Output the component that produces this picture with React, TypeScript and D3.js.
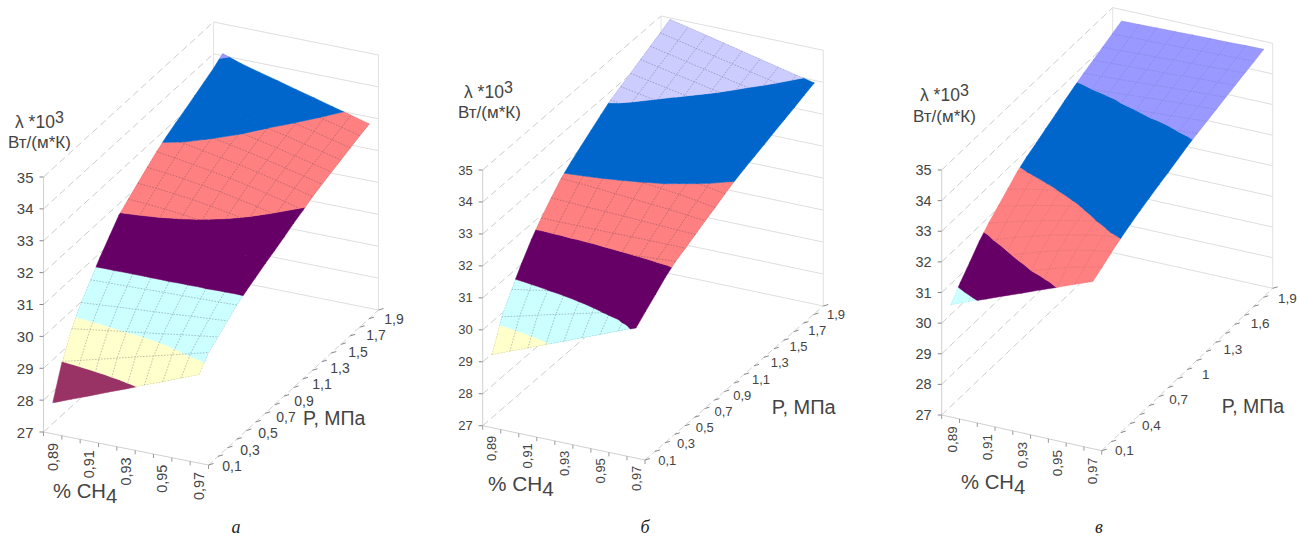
import React from "react";
import * as d3 from "d3";

const ch4Cats = ["0,89", "0,90", "0,91", "0,92", "0,93", "0,94", "0,95", "0,96", "0,97"];
const ch4Labels = ["0,89", "0,91", "0,93", "0,95", "0,97"];
const pCats = ["0,1", "0,2", "0,3", "0,4", "0,5", "0,6", "0,7", "0,8", "0,9", "1", "1,1", "1,2", "1,3", "1,4", "1,5", "1,6", "1,7", "1,8", "1,9"];
const pLabelsAB = ["0,1", "0,3", "0,5", "0,7", "0,9", "1,1", "1,3", "1,5", "1,7", "1,9"];
const pLabelsC = ["0,1", "0,4", "0,7", "1", "1,3", "1,6", "1,9"];
const zTicks = [27, 28, 29, 30, 31, 32, 33, 34, 35];
// one band per unit of lambda, 27-28 first
const bandColors = ["#9999FF", "#993366", "#FFFFCC", "#CCFFFF", "#660066", "#FF8080", "#0066CC"];
const darkColors = ["#993366", "#660066", "#0066CC"];

// rows: P from 0,1 to 1,9; columns: CH4 from 0,89 to 0,97
const surfaceA = [
  [27.97, 28.20, 28.42, 28.65, 28.87, 29.10, 29.32, 29.55, 29.77],
  [29.00, 29.15, 29.30, 29.45, 29.60, 29.75, 29.90, 30.05, 30.20],
  [29.76, 29.84, 29.93, 30.01, 30.09, 30.17, 30.26, 30.34, 30.42],
  [30.31, 30.35, 30.40, 30.44, 30.48, 30.52, 30.57, 30.61, 30.65],
  [30.75, 30.77, 30.78, 30.80, 30.82, 30.83, 30.85, 30.86, 30.88],
  [31.18, 31.17, 31.15, 31.14, 31.13, 31.11, 31.10, 31.08, 31.07],
  [31.57, 31.53, 31.48, 31.44, 31.40, 31.35, 31.31, 31.26, 31.22],
  [31.96, 31.93, 31.89, 31.83, 31.77, 31.69, 31.60, 31.49, 31.38],
  [32.20, 32.17, 32.12, 32.06, 31.98, 31.89, 31.78, 31.66, 31.52],
  [32.43, 32.39, 32.33, 32.26, 32.17, 32.07, 31.95, 31.82, 31.67],
  [32.66, 32.60, 32.53, 32.44, 32.35, 32.23, 32.12, 31.97, 31.83],
  [32.88, 32.80, 32.71, 32.61, 32.51, 32.39, 32.26, 32.12, 31.97],
  [33.07, 32.98, 32.87, 32.77, 32.66, 32.54, 32.40, 32.27, 32.12],
  [33.23, 33.13, 33.01, 32.90, 32.78, 32.65, 32.52, 32.38, 32.24],
  [33.38, 33.26, 33.14, 33.02, 32.90, 32.77, 32.63, 32.49, 32.35],
  [33.54, 33.41, 33.27, 33.14, 33.00, 32.87, 32.73, 32.60, 32.46],
  [33.70, 33.56, 33.42, 33.28, 33.14, 32.99, 32.85, 32.71, 32.57],
  [33.86, 33.71, 33.57, 33.42, 33.27, 33.12, 32.97, 32.83, 32.68],
  [34.07, 33.87, 33.71, 33.56, 33.40, 33.25, 33.09, 32.94, 32.78],
];

const surfaceB = [
  [29.27, 29.50, 29.72, 29.95, 30.17, 30.40, 30.62, 30.85, 31.07],
  [30.20, 30.34, 30.49, 30.63, 30.77, 30.91, 31.06, 31.20, 31.34],
  [30.79, 30.89, 30.99, 31.09, 31.20, 31.30, 31.40, 31.50, 31.60],
  [31.32, 31.39, 31.46, 31.53, 31.60, 31.66, 31.73, 31.80, 31.87],
  [31.81, 31.84, 31.88, 31.91, 31.95, 31.98, 32.01, 32.05, 32.08],
  [32.22, 32.22, 32.22, 32.22, 32.22, 32.23, 32.23, 32.23, 32.23],
  [32.58, 32.56, 32.53, 32.51, 32.49, 32.46, 32.44, 32.41, 32.39],
  [32.92, 32.89, 32.85, 32.80, 32.76, 32.71, 32.67, 32.61, 32.55],
  [33.17, 33.14, 33.10, 33.05, 32.99, 32.94, 32.87, 32.79, 32.70],
  [33.39, 33.35, 33.31, 33.26, 33.20, 33.13, 33.04, 32.96, 32.86],
  [33.61, 33.57, 33.51, 33.46, 33.38, 33.31, 33.21, 33.12, 33.01],
  [33.83, 33.76, 33.70, 33.62, 33.53, 33.44, 33.35, 33.24, 33.13],
  [34.04, 33.95, 33.86, 33.77, 33.67, 33.57, 33.46, 33.35, 33.24],
  [34.19, 34.09, 33.98, 33.88, 33.77, 33.67, 33.56, 33.46, 33.35],
  [34.34, 34.23, 34.12, 34.01, 33.91, 33.80, 33.69, 33.58, 33.47],
  [34.50, 34.39, 34.27, 34.16, 34.04, 33.93, 33.81, 33.70, 33.58],
  [34.65, 34.53, 34.41, 34.29, 34.17, 34.05, 33.93, 33.81, 33.69],
  [34.80, 34.68, 34.55, 34.43, 34.31, 34.18, 34.06, 33.93, 33.81],
  [34.96, 34.83, 34.70, 34.57, 34.44, 34.31, 34.18, 34.05, 33.92],
];

const surfaceC = [
  [30.66, 30.89, 31.11, 31.34, 31.56, 31.79, 32.01, 32.24, 32.46],
  [31.08, 31.33, 31.57, 31.79, 32.00, 32.19, 32.37, 32.51, 32.64],
  [31.45, 31.70, 31.92, 32.13, 32.32, 32.49, 32.64, 32.76, 32.84],
  [31.84, 32.04, 32.24, 32.41, 32.57, 32.71, 32.84, 32.94, 33.01],
  [32.15, 32.32, 32.47, 32.62, 32.75, 32.88, 32.99, 33.08, 33.17],
  [32.41, 32.55, 32.69, 32.82, 32.93, 33.04, 33.14, 33.23, 33.31],
  [32.67, 32.80, 32.91, 33.02, 33.12, 33.21, 33.30, 33.37, 33.44],
  [32.94, 33.04, 33.14, 33.23, 33.31, 33.38, 33.45, 33.51, 33.57],
  [33.13, 33.22, 33.30, 33.38, 33.45, 33.52, 33.58, 33.64, 33.69],
  [33.29, 33.38, 33.45, 33.53, 33.60, 33.66, 33.72, 33.77, 33.82],
  [33.46, 33.53, 33.60, 33.67, 33.74, 33.80, 33.85, 33.90, 33.95],
  [33.62, 33.68, 33.75, 33.81, 33.87, 33.92, 33.96, 34.01, 34.05],
  [33.79, 33.85, 33.90, 33.96, 34.00, 34.05, 34.08, 34.12, 34.15],
  [33.95, 34.00, 34.04, 34.08, 34.12, 34.16, 34.19, 34.22, 34.25],
  [34.10, 34.13, 34.16, 34.19, 34.23, 34.26, 34.29, 34.32, 34.35],
  [34.23, 34.26, 34.29, 34.31, 34.34, 34.37, 34.40, 34.42, 34.45],
  [34.36, 34.38, 34.41, 34.43, 34.46, 34.48, 34.50, 34.53, 34.55],
  [34.50, 34.52, 34.54, 34.55, 34.57, 34.59, 34.61, 34.62, 34.64],
  [34.63, 34.64, 34.66, 34.67, 34.69, 34.70, 34.71, 34.73, 34.74],
];

const textColor = "#444";
const sans = "'Liberation Sans', Arial, sans-serif";

// categories sit in the middle of their tick interval on the CH4 axis (Excel style)
const ch4Scale = d3.scalePoint<string>().domain(ch4Cats).range([0, 1]).padding(0.5);
const pScale = d3.scalePoint<string>().domain(pCats).range([0, 1]);
const line = d3.line();

type Pt3 = [number, number, number];

// keep the part of a polygon on one side of a z level
function clipZ(poly: Pt3[], level: number, keepAbove: boolean): Pt3[] {
  const out: Pt3[] = [];
  poly.forEach((a, i) => {
    const b = poly[(i + 1) % poly.length];
    const aIn = keepAbove ? a[2] >= level : a[2] <= level;
    const bIn = keepAbove ? b[2] >= level : b[2] <= level;
    if (aIn) out.push(a);
    if (aIn !== bIn) {
      const t = (level - a[2]) / (b[2] - a[2]);
      out.push([a[0] + (b[0] - a[0]) * t, a[1] + (b[1] - a[1]) * t, level]);
    }
  });
  return out;
}

const Panel = ({ cfg }: { cfg: any }) => {
  const zPx = d3.scaleLinear().domain([27, 35]).range([0, cfg.zHeight]);
  const colors = [...bandColors, cfg.topColor];

  const project = (u: number, v: number, z: number): [number, number] => [
    cfg.ox + cfg.ux * u + cfg.vx * v,
    cfg.oy + cfg.uy * u + cfg.vy * v - zPx(z),
  ];

  // band outlines, built from the triangles of every grid cell
  const bandPaths = colors.map(() => "");
  cfg.surface.slice(1).forEach((row: number[], r: number) => {
    row.slice(1).forEach((_z: number, c: number) => {
      const u0 = ch4Scale(ch4Cats[c])!;
      const u1 = ch4Scale(ch4Cats[c + 1])!;
      const v0 = pScale(pCats[r])!;
      const v1 = pScale(pCats[r + 1])!;
      const a: Pt3 = [u0, v0, cfg.surface[r][c]];
      const b: Pt3 = [u1, v0, cfg.surface[r][c + 1]];
      const d: Pt3 = [u1, v1, cfg.surface[r + 1][c + 1]];
      const e: Pt3 = [u0, v1, cfg.surface[r + 1][c]];
      [[a, b, d], [a, d, e]].forEach((tri) => {
        colors.forEach((_col, i) => {
          let poly = clipZ(tri as Pt3[], 27 + i, true);
          if (poly.length) poly = clipZ(poly, 28 + i, false);
          if (poly.length > 2) {
            bandPaths[i] += line(poly.map((p) => project(p[0], p[1], p[2]))) + "Z";
          }
        });
      });
    });
  });

  const bands = colors.map((color: string, i: number) => ({ color, d: bandPaths[i] }));
  const clipId = `mesh-${cfg.id}`;

  const pRows = pCats.map((_p, r) =>
    line(ch4Cats.map((c, j) => project(ch4Scale(c)!, pScale(pCats[r])!, cfg.surface[r][j])))
  );
  const ch4Cols = ch4Cats.map((c, j) =>
    line(pCats.map((p, r) => project(ch4Scale(c)!, pScale(p)!, cfg.surface[r][j])))
  );

  const seg = (a: [number, number], b: [number, number]) => ({ x1: a[0], y1: a[1], x2: b[0], y2: b[1] });

  const lerp = (a: number, b: number, t: number) => a + (b - a) * t;

  return (
    <g>
      {/* walls */}
      {zTicks.map((z) => (
        <g key={z}>
          <line {...seg(project(0, 0, z), project(0, 1, z))} stroke="#c6c6c6" strokeWidth={0.9} strokeDasharray="7 4" />
          <line {...seg(project(0, 1, z), project(1, 1, z))} stroke="#dadada" strokeWidth={0.9} />
        </g>
      ))}
      <line {...seg(project(0, 0, 27), project(0, 0, 35))} stroke="#d0d0d0" />
      <line {...seg(project(0, 1, 27), project(0, 1, 35))} stroke="#e2e2e2" />
      <line {...seg(project(1, 1, 27), project(1, 1, 35))} stroke="#e2e2e2" />
      <line {...seg(project(0, 0, 27), project(1, 0, 27))} stroke="#d0d0d0" />
      <line {...seg(project(1, 0, 27), project(1, 1, 27))} stroke="#d0d0d0" strokeDasharray="6 3" />

      {/* axis ticks */}
      {zTicks.map((z) => {
        const [x, y] = project(0, 0, z);
        return (
          <g key={z}>
            <line x1={x - 4} x2={x} y1={y} y2={y} stroke="#888" />
            <text x={x - 10} y={y} fontSize={cfg.zFont} textAnchor="end" dominantBaseline="central" fill={textColor}>{z}</text>
          </g>
        );
      })}
      {d3.range(10).map((i) => {
        const [x, y] = project(i / 9, 0, 27);
        return <line key={i} x1={x} x2={x} y1={y} y2={y + 4} stroke="#999" />;
      })}
      {pCats.map((p) => {
        const [x, y] = project(1, pScale(p)!, 27);
        return <line key={p} x1={x} x2={x + 5} y1={y} y2={y - 1.5} stroke="#888" />;
      })}

      {/* surface */}
      {bands.map((b) => (
        <path key={b.color} d={b.d} fill={b.color} stroke={b.color} strokeWidth={0.5} />
      ))}
      <clipPath id={clipId}>
        {bands.filter((b) => !darkColors.includes(b.color)).map((b) => (
          <path key={b.color} d={b.d} />
        ))}
      </clipPath>
      <g clipPath={`url(#${clipId})`} fill="none" stroke="#3c3c50" strokeWidth={0.7} strokeDasharray="1.6 1.4" opacity={cfg.meshOpacity}>
        {pRows.map((d, i) => <path key={i} d={d!} />)}
        {ch4Cols.map((d, i) => <path key={i} d={d!} />)}
      </g>

      {/* tick labels */}
      {cfg.pLabels.map((p: string) => {
        const t = pScale(p)!;
        return (
          <text key={p} x={lerp(cfg.pLabelFrom[0], cfg.pLabelTo[0], t)} y={lerp(cfg.pLabelFrom[1], cfg.pLabelTo[1], t)}
            fontSize={cfg.pFont} textAnchor="middle" dominantBaseline="central" fill={textColor}>{p}</text>
        );
      })}
      {ch4Labels.map((c, i) => {
        const t = i / (ch4Labels.length - 1);
        const x = lerp(cfg.chLabelFrom[0], cfg.chLabelTo[0], t);
        const y = lerp(cfg.chLabelFrom[1], cfg.chLabelTo[1], t);
        return (
          <text key={c} transform={`translate(${x},${y}) rotate(-90)`} fontSize={cfg.chFont}
            textAnchor="middle" dominantBaseline="central" fill={textColor}>{c}</text>
        );
      })}

      {/* titles */}
      <text x={cfg.lambda[0]} y={cfg.lambda[1]} fontSize={17.5} fill={textColor}>
        λ *10<tspan dy={-5} fontSize={16}>3</tspan>
      </text>
      <text x={cfg.unit[0]} y={cfg.unit[1]} fontSize={17} fill={textColor}>Вт/(м*К)</text>
      <text x={cfg.pTitle[0]} y={cfg.pTitle[1]} fontSize={cfg.titleFont} fill={textColor}>P, МПа</text>
      <text x={cfg.chTitle[0]} y={cfg.chTitle[1]} fontSize={cfg.titleFont + 0.8} fill={textColor}>
        % CH<tspan dy={5}>4</tspan>
      </text>
      <text x={cfg.letter[0]} y={cfg.letter[1]} fontSize={18} fontStyle="italic" textAnchor="middle"
        fontFamily="'Liberation Serif', serif" fill="#222">{cfg.letterText}</text>
    </g>
  );
};

const panels = [
  {
    id: "a", surface: surfaceA, topColor: "#9999FF", meshOpacity: 0.45, pLabels: pLabelsAB, letterText: "а",
    ox: 43.5, oy: 432, ux: 165, uy: 33, vx: 170, vy: -155, zHeight: 255,
    zFont: 15, pFont: 14, chFont: 14.5, titleFont: 19.5,
    pLabelFrom: [232, 466], pLabelTo: [394, 319], chLabelFrom: [52.7, 457], chLabelTo: [199, 486],
    lambda: [15, 128], unit: [8, 148], pTitle: [303, 425], chTitle: [53, 498], letter: [236, 533],
  },
  {
    id: "b", surface: surfaceB, topColor: "#CCCCFF", meshOpacity: 0.45, pLabels: pLabelsAB, letterText: "б",
    ox: 482.7, oy: 425.7, ux: 162.3, uy: 34.3, vx: 178.3, vy: -154, zHeight: 255.7,
    zFont: 13, pFont: 13, chFont: 13, titleFont: 20,
    pLabelFrom: [667.3, 460], pLabelTo: [836, 314.3], chLabelFrom: [491.7, 448.3], chLabelTo: [636.7, 478.3],
    lambda: [464, 98], unit: [458, 118], pTitle: [771.7, 414], chTitle: [488, 490.7], letter: [645, 533],
  },
  {
    id: "c", surface: surfaceC, topColor: "#9999FF", meshOpacity: 0.2, pLabels: pLabelsC, letterText: "в",
    ox: 941.7, oy: 415, ux: 160, uy: 35.7, vx: 171, vy: -162.4, zHeight: 245,
    zFont: 14.5, pFont: 13.5, chFont: 13.5, titleFont: 19.5,
    pLabelFrom: [1124.3, 450.7], pLabelTo: [1287.3, 298.3], chLabelFrom: [952.3, 439.3], chLabelTo: [1092.3, 471],
    lambda: [920, 100.7], unit: [913, 121.7], pTitle: [1221.7, 412.7], chTitle: [961, 489], letter: [1099, 533],
  },
];

export default function App() {
  return (
    <svg width={1297} height={538} fontFamily={sans} style={{ position: "absolute", left: 0, top: 0, display: "block", background: "#fff" }}>
      {panels.map((p) => <Panel key={p.id} cfg={p} />)}
    </svg>
  );
}
